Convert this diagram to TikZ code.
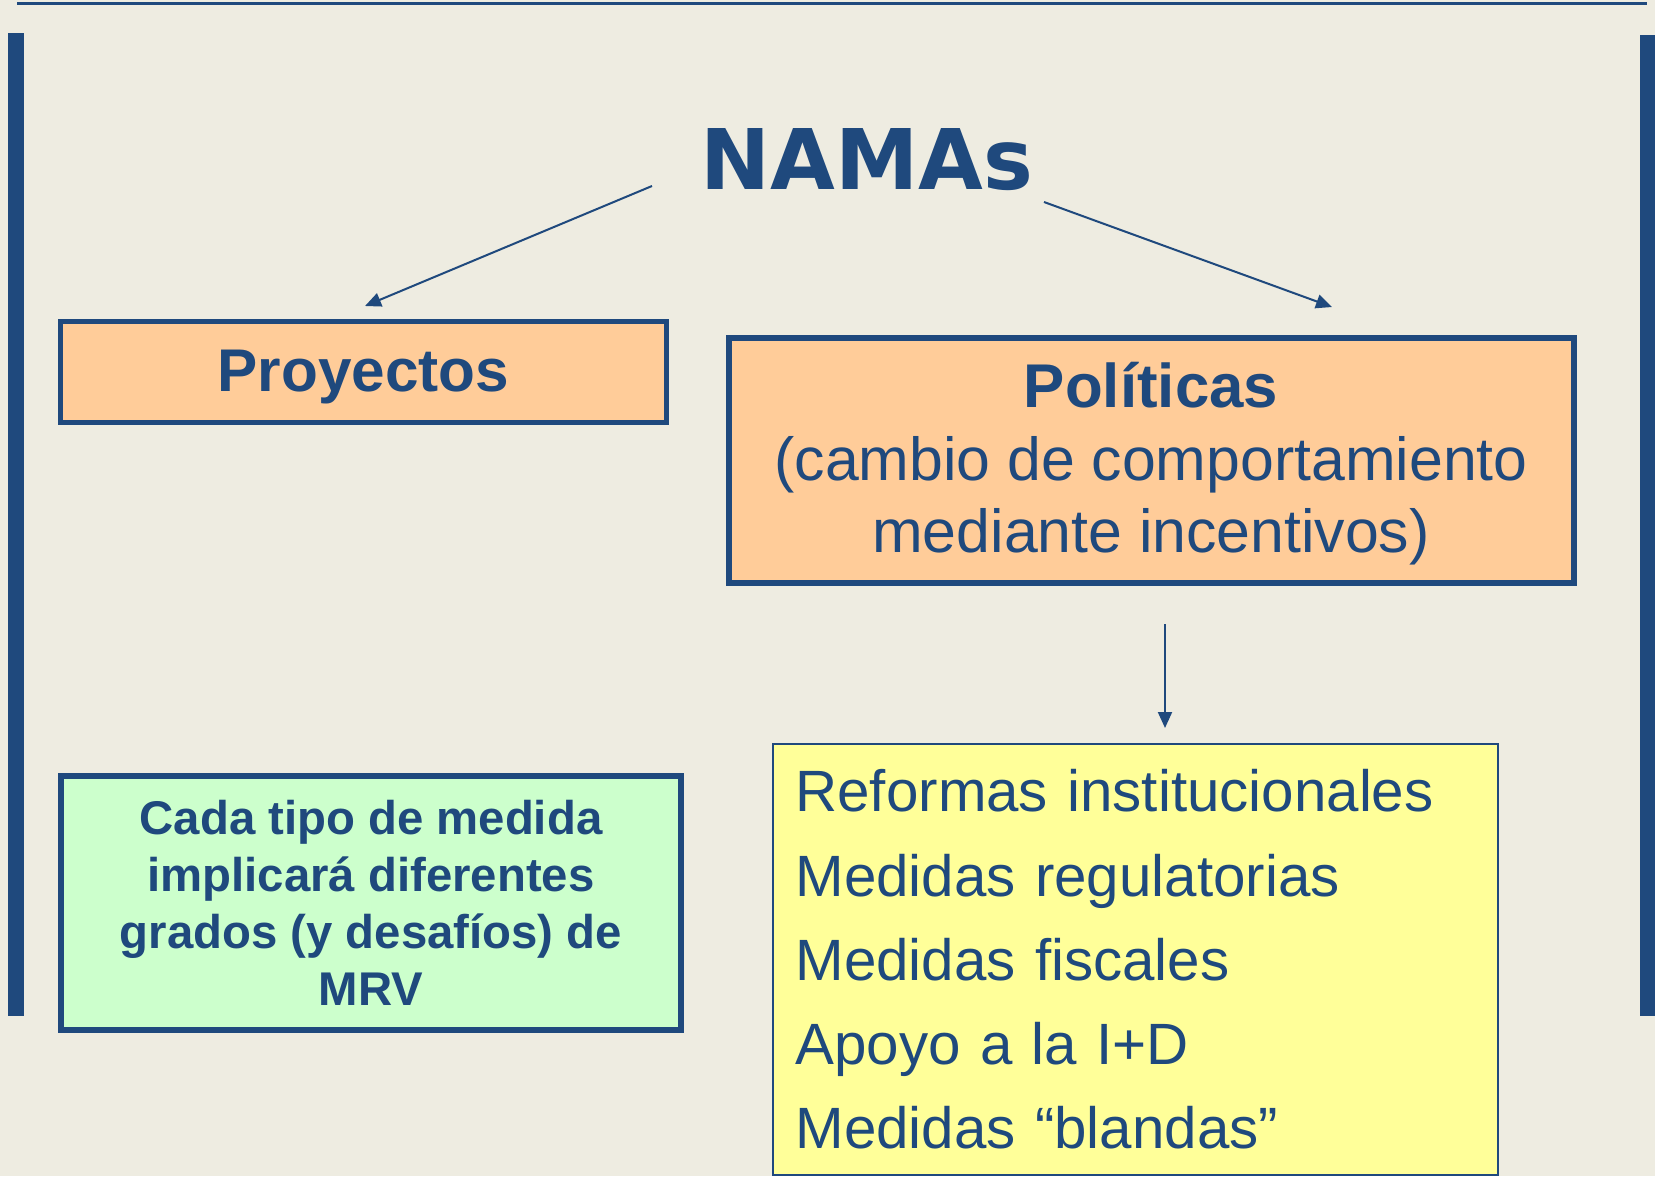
\documentclass[tikz,border=0pt]{standalone}
\usepackage{fontspec}
\setmainfont{Liberation Sans}
\newfontfamily\namasfont{DejaVu Sans}
\usetikzlibrary{arrows.meta}
\definecolor{bg}{HTML}{EEECE1}
\definecolor{dblue}{HTML}{1F497D}
\definecolor{peach}{HTML}{FFCC99}
\definecolor{mint}{HTML}{CCFFCC}
\definecolor{lemon}{HTML}{FFFF99}
\begin{document}
\begin{tikzpicture}[x=1bp,y=-1bp,
  box/.style={draw=dblue, rectangle, inner sep=0pt, text=dblue, align=center},
  conn/.style={draw=dblue, line width=2bp, -{Triangle[length=16bp,width=14bp]}}
]
\useasboundingbox (0,0) rectangle (1655,1176);
\fill[bg] (0,0) rectangle (1655,1176);
% frame decorations
\fill[dblue] (17,2) rectangle (1647,5);
\fill[dblue] (8,33) rectangle (24,1016);
\fill[dblue] (1640,35) rectangle (1655,1016);

\node[text=dblue, font=\namasfont\bfseries\fontsize{84}{90}\selectfont, anchor=base, inner sep=0pt] (namas) at (867,189) {NAMAs};

\node[box, fill=peach, line width=5bp, minimum width=606bp, minimum height=101bp, text depth=3bp,
      font=\bfseries\fontsize{60.5}{72}\selectfont] (proy) at (363.5,372) {Proyectos};

\node[box, fill=peach, line width=6bp, minimum width=845bp, minimum height=245bp, text depth=6bp,
      font=\fontsize{61}{73}\selectfont] (pol) at (1151,460.5)
      {{\bfseries\fontsize{62}{73}\selectfont Políticas}\\(cambio de comportamiento\\mediante incentivos)};

\node[box, fill=mint, line width=6bp, minimum width=620bp, minimum height=254bp,
      font=\bfseries\fontsize{47.5}{57}\selectfont] (mrv) at (371,903)
      {Cada tipo de medida\\implicará diferentes\\grados (y desafíos) de\\MRV};

\node[box, fill=lemon, line width=2bp, minimum width=725bp, minimum height=431bp,
      align=left, text width=680bp, font=\fontsize{58.5}{84.5}\selectfont] (med) at (1135.5,959.5)
      {Reformas institucionales\\Medidas regulatorias\\Medidas fiscales\\Apoyo a la I+D\\Medidas “blandas”};

\coordinate (a1s) at (652,186);
\coordinate (a1e) at (365,306);
\coordinate (a2s) at (1044,202);
\coordinate (a2e) at (1332,307);
\coordinate (a3s) at (1165,624);
\coordinate (a3e) at (1165,728);
\draw[conn] (a1s) -- (a1e);
\draw[conn] (a2s) -- (a2e);
\draw[conn] (a3s) -- (a3e);
\end{tikzpicture}
\end{document}
